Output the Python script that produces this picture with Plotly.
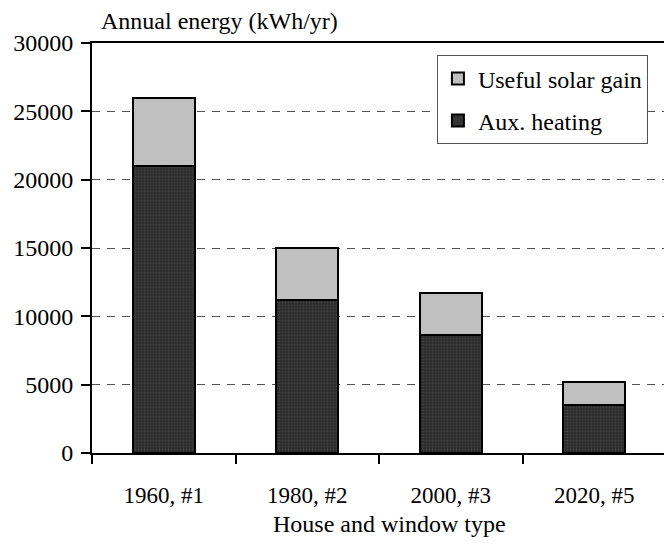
import plotly.graph_objects as go

categories = ["1960, #1", "1980, #2", "2000, #3", "2020, #5"]
aux_heating = [21000, 11200, 8600, 3500]
solar_gain = [5000, 3800, 3100, 1700]
y_ticks = [0, 5000, 10000, 15000, 20000, 25000, 30000]

FONT = "Liberation Serif"

fig = go.Figure()
fig.add_trace(go.Bar(
    x=categories, y=aux_heating, name="Aux. heating", legendgroup="a",
    legendrank=2, width=0.43,
    marker=dict(color="#2b2b2b", line=dict(color="black", width=2),
                pattern=dict(shape=".", fgcolor="#555555", bgcolor="#2b2b2b",
                             size=3, solidity=0.35)),
))
fig.add_trace(go.Bar(
    x=categories, y=solar_gain, name="Useful solar gain", legendgroup="b",
    legendrank=1, width=0.43,
    marker=dict(color="#c0c0c0", line=dict(color="black", width=2)),
))

# the page body has an 8px margin, so the figure is sized/offset to fit the window
fig.update_layout(
    width=656, height=533,
    margin=dict(l=84, r=0, t=35, b=88),
    barmode="stack",
    plot_bgcolor="white", paper_bgcolor="white",
    font=dict(family=FONT, size=24, color="black"),
    legend=dict(x=0.603, y=0.970, xanchor="left", yanchor="top",
                bordercolor="#555555", borderwidth=1, bgcolor="white",
                traceorder="grouped", tracegroupgap=8,
                font=dict(family=FONT, size=24, color="black")),
    showlegend=True,
)
fig.update_xaxes(
    type="category", range=[-0.5, 3.486], tickson="boundaries",
    ticks="outside", ticklen=9, tickwidth=2, tickcolor="black",
    showline=True, linewidth=2, linecolor="black", mirror=True,
    showgrid=False, ticklabelstandoff=20, automargin=False,
    tickfont=dict(family=FONT, size=23, color="black"),
)
fig.update_yaxes(
    range=[0, 30000], tickvals=y_ticks, ticktext=[str(v) for v in y_ticks],
    ticks="outside", ticklen=9, tickwidth=2, tickcolor="black",
    showline=True, linewidth=2, linecolor="black",
    showgrid=True, gridcolor="#555555", gridwidth=1, griddash="8px,7px",
    zeroline=False, ticklabelstandoff=3, automargin=False,
    tickfont=dict(family=FONT, size=24, color="black"),
)
fig.add_annotation(text="Annual energy (kWh/yr)", xref="paper", yref="paper",
                   x=0.012, y=1, xanchor="left", yanchor="middle", yshift=22,
                   showarrow=False, font=dict(family=FONT, size=24, color="black"))
fig.add_annotation(text="House and window type", xref="paper", yref="paper",
                   x=0.52, y=0, xanchor="center", yanchor="middle", yshift=-71,
                   showarrow=False, font=dict(family=FONT, size=24, color="black"))

fig.write_html("out.html")
